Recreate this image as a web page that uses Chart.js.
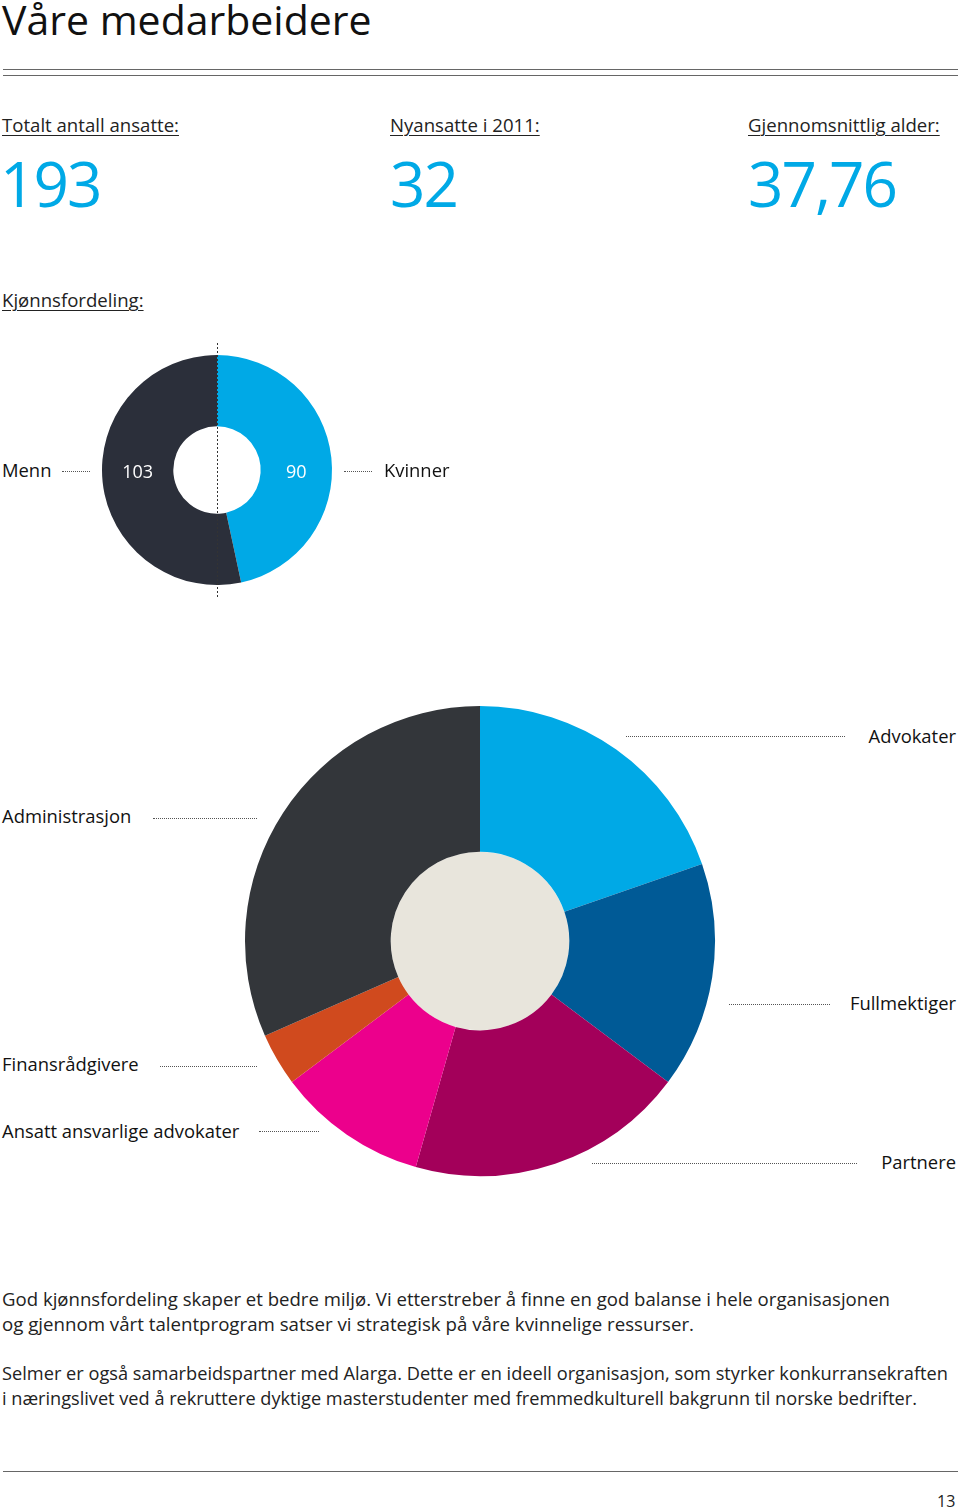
<!DOCTYPE html>
<html lang="no">
<head>
<meta charset="utf-8">
<script src="https://cdn.jsdelivr.net/npm/chart.js@4"></script>
<style>
  body { margin: 0; width: 960px; height: 1512px; background: #fff; font-family: "Open Sans", sans-serif; color: #111; position: relative; overflow: hidden; }
  .abs { position: absolute; white-space: nowrap; }
  .title { left: 2px; top: -9px; font-size: 41px; font-weight: 400; letter-spacing: 0px; }
  .rule { position: absolute; left: 3px; width: 955px; height: 0; border-top: 1px solid #666; }
  .lbl { font-size: 18.6px; text-decoration: underline; text-decoration-thickness: 1px; text-underline-offset: 3px; color: #222; }
  .big { font-size: 62px; color: #00a9e6; font-weight: 500; letter-spacing: -2px; }
  .cat { font-size: 18.4px; color: #111; }
  .dots { position: absolute; height: 0; border-top: 1px dotted #555; }
  .para { font-size: 17.5px; color: #222; left: 2px; transform-origin: left top; }
  #small { position: absolute; left: 87px; top: 340px; }
  #large { position: absolute; left: 240px; top: 701px; }
</style>
</head>
<body>
<div class="abs title">Våre medarbeidere</div>
<div class="rule" style="top:69px"></div>
<div class="rule" style="top:75px"></div>

<div class="abs lbl" style="left:2px;top:112px">Totalt antall ansatte:</div>
<div class="abs lbl" style="left:390px;top:112px">Nyansatte i 2011:</div>
<div class="abs lbl" style="left:748px;top:112px">Gjennomsnittlig alder:</div>
<div class="abs big" id="stat0" style="left:0px;top:141px"></div>
<div class="abs big" id="stat1" style="left:390px;top:141px"></div>
<div class="abs big" id="stat2" style="left:748px;top:141px"></div>

<div class="abs lbl" style="left:2px;top:287px">Kjønnsfordeling:</div>

<div id="small"><canvas id="genderChart" width="260" height="260"></canvas></div>
<div class="abs cat" style="left:2px;top:457px">Menn</div>
<div class="dots" style="left:62px;top:471px;width:28px"></div>
<div class="dots" style="left:344px;top:471px;width:28px"></div>
<div class="abs cat" style="left:384px;top:457px">Kvinner</div>

<div id="large"><canvas id="roleChart" width="480" height="480"></canvas></div>
<div class="abs cat" style="right:4px;top:723px">Advokater</div>
<div class="dots" style="left:626px;top:736px;width:219px"></div>
<div class="abs cat" style="left:2px;top:803px">Administrasjon</div>
<div class="dots" style="left:153px;top:818px;width:104px"></div>
<div class="abs cat" style="right:4px;top:990px">Fullmektiger</div>
<div class="dots" style="left:729px;top:1004px;width:101px"></div>
<div class="abs cat" style="left:2px;top:1051px">Finansrådgivere</div>
<div class="dots" style="left:160px;top:1066px;width:97px"></div>
<div class="abs cat" style="left:2px;top:1118px">Ansatt ansvarlige advokater</div>
<div class="dots" style="left:259px;top:1131px;width:60px"></div>
<div class="abs cat" style="right:4px;top:1149px">Partnere</div>
<div class="dots" style="left:592px;top:1163px;width:265px"></div>

<div class="abs para" data-w="888" style="top:1287px">God kjønnsfordeling skaper et bedre miljø. Vi etterstreber å finne en god balanse i hele organisasjonen</div>
<div class="abs para" data-w="692" style="top:1312px">og gjennom vårt talentprogram satser vi strategisk på våre kvinnelige ressurser.</div>
<div class="abs para" data-w="946" style="top:1361px">Selmer er også samarbeidspartner med Alarga. Dette er en ideell organisasjon, som styrker konkurransekraften</div>
<div class="abs para" data-w="915" style="top:1386px">i næringslivet ved å rekruttere dyktige masterstudenter med fremmedkulturell bakgrunn til norske bedrifter.</div>

<div class="rule" style="top:1471px"></div>
<div class="abs" style="left:937px;top:1490px;font-size:16px;color:#222">13</div>

<script>
// nøkkeltall
const statValues = ['193', '32', '37,76'];

// kjønnsfordeling
const genderLabels = ['Kvinner', 'Menn'];
const genderValues = [90, 103];
const genderColors = ['#00a9e6', '#2b2f3a'];

// stillingskategorier (med klokka fra toppen)
const roleLabels = ['Advokater', 'Fullmektiger', 'Partnere', 'Ansatt ansvarlige advokater', 'Finansrådgivere', 'Administrasjon'];
const roleValues = [38, 30, 37, 20, 7, 61];
const roleColors = ['#00a9e6', '#005a96', '#a3005a', '#ec008c', '#d04a1e', '#33363a'];

statValues.forEach((v, i) => {
    document.getElementById('stat' + i).textContent = v;
});

// strekker avsnittslinjene til samme bredde som originalen
document.querySelectorAll('.para').forEach(el => {
    let w = el.getBoundingClientRect().width;
    el.style.transform = 'scaleX(' + (el.dataset.w / w) + ')';
});

// fyller hullet i smultringen
const holeFill = {
    id: 'holeFill',
    beforeDatasetsDraw(chart, args, opts) {
        let arc = chart.getDatasetMeta(0).data[0];
        if (!arc) return;
        let ctx = chart.ctx;
        ctx.save();
        ctx.fillStyle = opts.color || '#fff';
        ctx.beginPath();
        ctx.arc(arc.x, arc.y, arc.innerRadius, 0, Math.PI * 2);
        ctx.fill();
        ctx.restore();
    }
};

// tall midt i ringen + stiplet midtlinje
const genderDecor = {
    id: 'genderDecor',
    afterDatasetsDraw(chart) {
        let ctx = chart.ctx;
        let meta = chart.getDatasetMeta(0);
        let a = meta.data[0];
        let mid = (a.innerRadius + a.outerRadius) / 2;
        ctx.save();
        ctx.fillStyle = '#fff';
        ctx.font = '18px "Open Sans", sans-serif';
        ctx.textAlign = 'center';
        ctx.textBaseline = 'middle';
        ctx.fillText(String(genderValues[0]), a.x + mid, a.y + 3);
        ctx.fillText(String(genderValues[1]), a.x - mid, a.y + 3);
        ctx.strokeStyle = '#333';
        ctx.lineWidth = 1;
        ctx.setLineDash([2, 2]);
        ctx.beginPath();
        ctx.moveTo(Math.round(a.x) + 0.5, 3);
        ctx.lineTo(Math.round(a.x) + 0.5, chart.height - 2);
        ctx.stroke();
        ctx.restore();
    }
};

new Chart(document.getElementById('genderChart'), {
    type: 'doughnut',
    data: {
        labels: genderLabels,
        datasets: [{ data: genderValues, backgroundColor: genderColors, borderWidth: 0 }]
    },
    options: {
        responsive: false,
        animation: false,
        cutout: '38%',
        layout: { padding: 15 },
        plugins: { legend: { display: false }, tooltip: { enabled: false }, holeFill: { color: '#fff' } }
    },
    plugins: [holeFill, genderDecor]
});

new Chart(document.getElementById('roleChart'), {
    type: 'doughnut',
    data: {
        labels: roleLabels,
        datasets: [{ data: roleValues, backgroundColor: roleColors, borderWidth: 0 }]
    },
    options: {
        responsive: false,
        animation: false,
        cutout: '38%',
        layout: { padding: 5 },
        plugins: { legend: { display: false }, tooltip: { enabled: false }, holeFill: { color: '#e8e5dc' } }
    },
    plugins: [holeFill]
});
</script>
</body>
</html>
